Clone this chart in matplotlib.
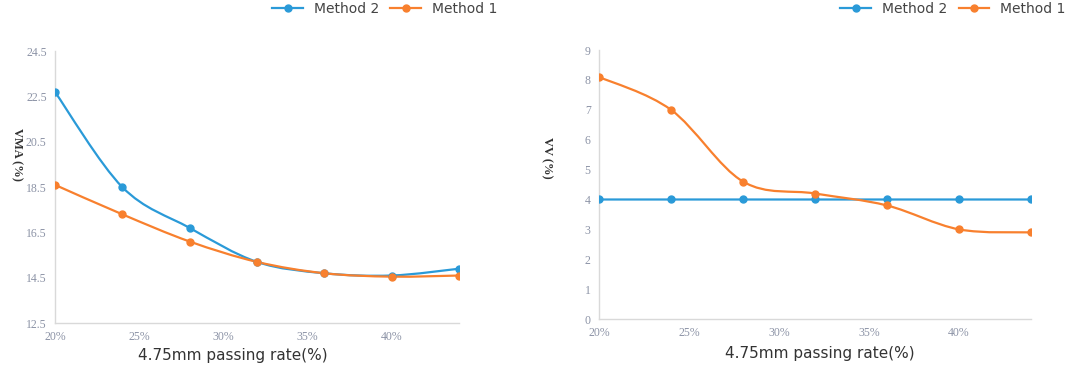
#!/usr/bin/env python3
import numpy as np
import matplotlib
matplotlib.use('Agg')
import matplotlib.pyplot as plt
from matplotlib.path import Path
from matplotlib.patches import PathPatch

# passing rate of the 4.75mm sieve (%)
passing = [20, 24, 28, 32, 36, 40, 44]
xticks = [20, 25, 30, 35, 40]
xticklabels = ['20%', '25%', '30%', '35%', '40%']

# VMA (%)
vma_m2 = [22.7, 18.5, 16.7, 15.2, 14.7, 14.6, 14.9]
vma_m1 = [18.6, 17.3, 16.1, 15.2, 14.7, 14.55, 14.6]

# VV (%)
vv_m2 = [4.0, 4.0, 4.0, 4.0, 4.0, 4.0, 4.0]
vv_m1 = [8.1, 7.0, 4.6, 4.2, 3.8, 3.0, 2.9]

BLUE = '#2a9ad8'
ORANGE = '#f8802e'
TICK_COLOR = '#8c93a6'
SPINE_COLOR = '#d9d9d9'


def smooth_path(x, y):
    # excel-like smoothed line: catmull-rom segments drawn as cubic beziers
    x = np.asarray(x, float)
    y = np.asarray(y, float)
    pts = np.column_stack([x, y])
    verts = [pts[0]]
    codes = [Path.MOVETO]
    n = len(pts)
    for i in range(n - 1):
        p0 = pts[i - 1] if i > 0 else pts[i]
        p1 = pts[i]
        p2 = pts[i + 1]
        p3 = pts[i + 2] if i + 2 < n else pts[i + 1]
        c1 = p1 + (p2 - p0) / 6.0
        c2 = p2 - (p3 - p1) / 6.0
        verts += [c1, c2, p2]
        codes += [Path.CURVE4] * 3
    return Path(verts, codes)


def draw_series(ax, x, y, color, label):
    ax.add_patch(PathPatch(smooth_path(x, y), facecolor='none', edgecolor=color,
                           lw=1.6, zorder=2))
    ax.plot(x, y, 'o', color=color, ms=5, zorder=3)
    # legend handle
    ax.plot([], [], '-o', color=color, ms=5, lw=1.6, label=label)


def style_axes(ax, ylim, yticks, ylabel, xlabel_x, xlabel_y):
    ax.set_xlim(20, 44)
    ax.set_ylim(*ylim)
    ax.set_xticks(xticks)
    ax.set_xticklabels(xticklabels)
    ax.set_yticks(yticks)
    for s in ['top', 'right']:
        ax.spines[s].set_visible(False)
    for s in ['left', 'bottom']:
        ax.spines[s].set_color(SPINE_COLOR)
        ax.spines[s].set_linewidth(1.0)
    ax.tick_params(length=0, pad=6, labelsize=8.5, labelcolor=TICK_COLOR)
    for t in ax.get_xticklabels() + ax.get_yticklabels():
        t.set_family('Liberation Serif')
    ax.set_ylabel(ylabel, rotation=270, family='Liberation Serif',
                  fontsize=9, color='#333333', fontweight='bold')
    ax.set_xlabel('4.75mm passing rate(%)', fontsize=11, color='#333333',
                  family='DejaVu Sans')
    ax.xaxis.set_label_coords(xlabel_x, xlabel_y)


def main():
    fig = plt.figure(figsize=(10.72, 3.68), dpi=100)

    ax1 = fig.add_axes([0.0513, 0.122, 0.3769, 0.739])
    draw_series(ax1, passing, vma_m2, BLUE, 'Method 2')
    draw_series(ax1, passing, vma_m1, ORANGE, 'Method 1')
    style_axes(ax1, (12.5, 24.5), np.arange(12.5, 24.6, 2.0), 'VMA (%)', 0.44, -0.09)
    ax1.yaxis.set_label_coords(-0.11, 0.62)
    ax1.set_yticklabels(['%.1f' % v for v in np.arange(12.5, 24.6, 2.0)])
    h, l = ax1.get_legend_handles_labels()
    fig.legend(h, l, loc='center', bbox_to_anchor=(0.359, 0.975), ncol=2, frameon=False,
               fontsize=10, handlelength=2.2, columnspacing=0.8, handletextpad=0.8,
               labelcolor='#444444')

    ax2 = fig.add_axes([0.5588, 0.133, 0.403, 0.731])
    draw_series(ax2, passing, vv_m2, BLUE, 'Method 2')
    draw_series(ax2, passing, vv_m1, ORANGE, 'Method 1')
    style_axes(ax2, (0, 9), np.arange(0, 10, 1), 'VV (%)', 0.51, -0.1)
    ax2.yaxis.set_label_coords(-0.135, 0.6)
    h, l = ax2.get_legend_handles_labels()
    fig.legend(h, l, loc='center', bbox_to_anchor=(0.889, 0.975), ncol=2, frameon=False,
               fontsize=10, handlelength=2.2, columnspacing=0.8, handletextpad=0.8,
               labelcolor='#444444')

    fig.savefig('out.png', dpi=100, facecolor='white')


if __name__ == '__main__':
    main()
